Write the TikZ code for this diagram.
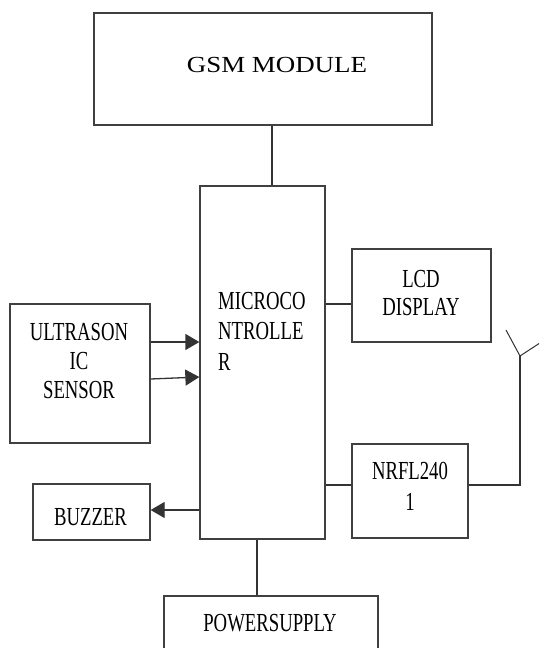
\documentclass[tikz,border=0pt]{standalone}
\usepackage{fontspec}
\setmainfont{Liberation Serif}
\usepackage{graphicx}
\usetikzlibrary{arrows.meta,calc}
\newcommand{\sqz}[1]{\scalebox{0.72}[1]{#1}}
\tikzset{
  box/.style={draw=black!75, line width=1.3pt, inner sep=0pt, fill=none},
  lbl/.style={inner sep=0pt, font=\fontsize{26}{29.5}\selectfont, text=black, align=center, anchor=north},
  wire/.style={draw=black!80, line width=1.3pt},
  arr/.style={wire, -{Triangle[length=14pt,width=16pt]}}
}
\begin{document}
\begin{tikzpicture}[x=1pt,y=-1pt]
\clip (0,0) rectangle (539,648);
\fill[white] (0,0) rectangle (539,648);
% boxes
\node[box, minimum width=338pt, minimum height=112pt] (gsm) at (263,69) {};
\node[box, minimum width=125pt, minimum height=353pt] (mcu) at (262.5,362.5) {};
\node[box, minimum width=139pt, minimum height=93pt] (lcd) at (421.5,295.5) {};
\node[box, minimum width=116pt, minimum height=94pt] (nrf) at (410,491) {};
\node[box, minimum width=140pt, minimum height=139pt] (us) at (80,373.5) {};
\node[box, minimum width=117pt, minimum height=56pt] (buz) at (91.5,512) {};
\node[box, minimum width=214pt, minimum height=64pt] (pwr) at (271,628) {};
% labels
\node[lbl, font=\fontsize{23}{26}\selectfont] (tgsm) at (277,57) {\scalebox{1.17}[1]{GSM MODULE}};
\node[lbl, font=\fontsize{26}{30.5}\selectfont, align=left, anchor=north west] (tmcu) at (218,292) {\sqz{MICROCO}\\\sqz{NTROLLE}\\\sqz{R}};
\node[lbl, font=\fontsize{26}{28}\selectfont] (tlcd) at (421,270) {\sqz{LCD}\\\sqz{DISPLAY}};
\node[lbl, font=\fontsize{26}{31}\selectfont] (tnrf) at (410,462) {\sqz{NRFL240}\\\sqz{1}};
\node[lbl, font=\fontsize{26}{29}\selectfont] (tus) at (79,323) {\sqz{ULTRASON}\\\sqz{IC}\\\sqz{SENSOR}};
\node[lbl] (tbuz) at (90.5,508) {\sqz{BUZZER}};
\node[lbl] (tpwr) at (270,614) {\sqz{POWERSUPPLY}};
% connectors
\draw[wire] ([xshift=9pt]gsm.south) -- ([xshift=9.5pt]mcu.north);
\draw[wire] ([yshift=-8.5pt]lcd.west -| mcu.east) -- ([yshift=-8.5pt]lcd.west);
\draw[wire] ([yshift=6pt]nrf.west -| mcu.east) -- ([yshift=6pt]nrf.west);
\draw[arr] ([yshift=31.5pt]us.east) -- ([yshift=31.5pt]us.east -| mcu.west);
\draw[arr] ([yshift=-5.5pt]us.east) -- ([yshift=-3.5pt]us.east -| mcu.west);
\draw[arr] ([yshift=2pt]buz.east -| mcu.west) -- ([yshift=2pt]buz.east);
\draw[wire] ([xshift=-5.5pt]mcu.south) -- ([xshift=-5.5pt]mcu.south |- pwr.north);
% antenna
\coordinate (ant) at (520,356);
\coordinate (antl) at (506,330);
\coordinate (antr) at (546,339);
\draw[wire] ([yshift=6pt]nrf.east) -| (ant);
\draw[wire, line width=1pt] (antl) -- (ant) -- (antr);
\end{tikzpicture}
\end{document}
